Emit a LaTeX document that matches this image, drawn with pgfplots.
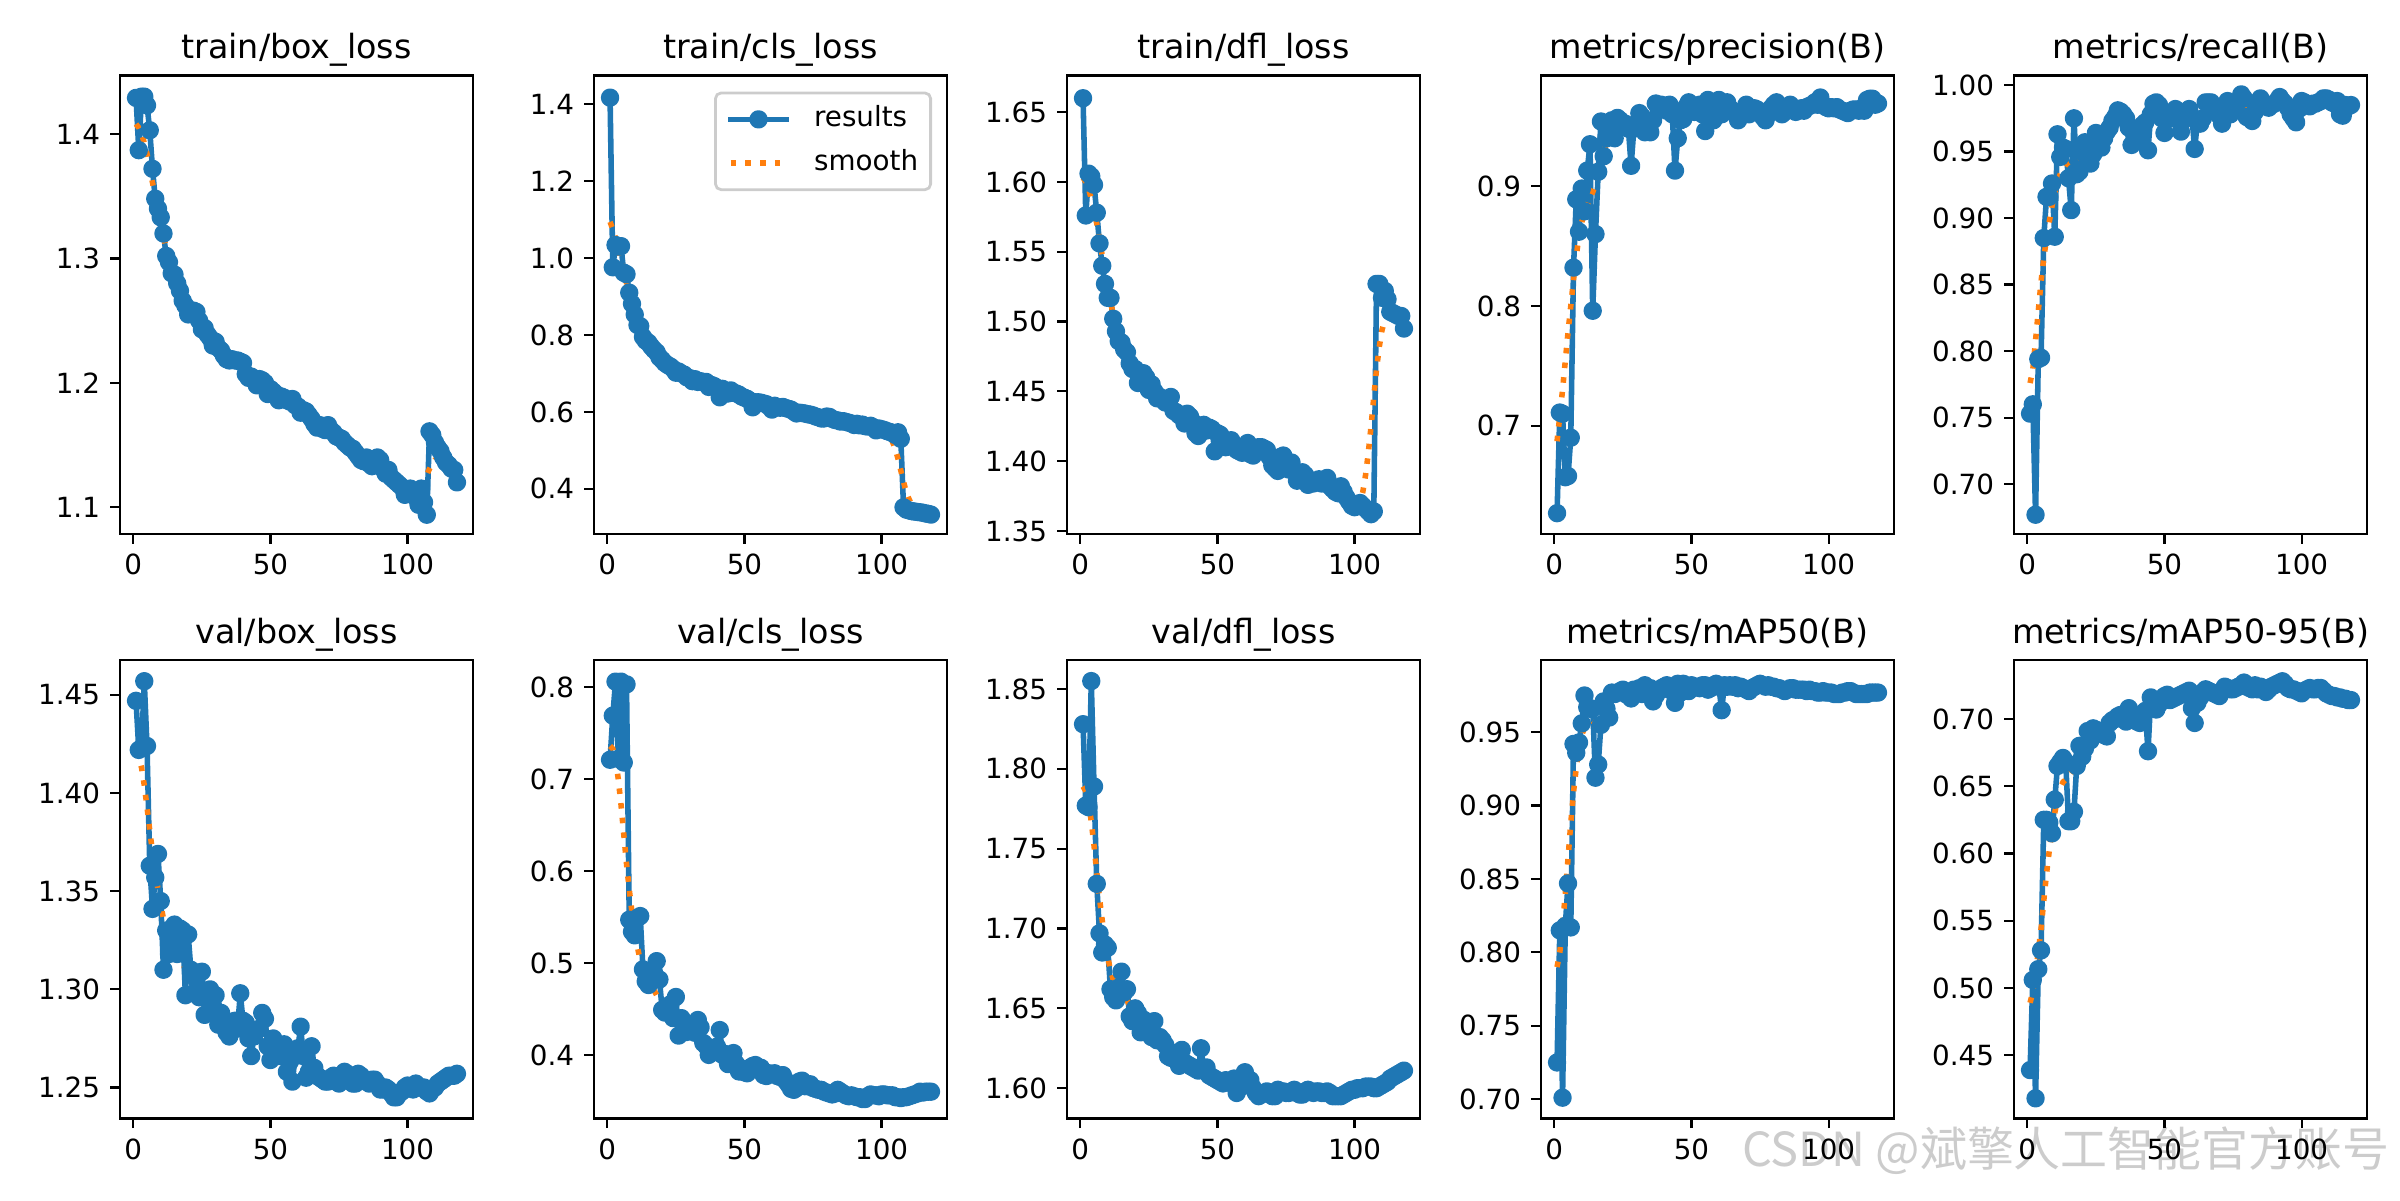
\documentclass[border=0pt]{standalone}
\usepackage{fontspec}
\setmainfont{DejaVu Sans}
\newfontfamily\cjkfont{Noto Sans CJK SC}
\usepackage{pgfplots}
\usepackage{pgfplotstable}
\pgfplotsset{compat=1.18}
\definecolor{c0}{HTML}{1F77B4}
\definecolor{c1}{HTML}{FF7F0E}
\definecolor{lgedge}{gray}{0.8}
\definecolor{wm}{gray}{0.8}

\pgfplotstableread{
e tb tc td pr re vb vc vd ma mb
1 1.429 1.417 1.660 0.627 0.753 1.447 0.721 1.828 0.725 0.439
2 1.387 0.976 1.576 0.711 0.760 1.422 0.769 1.777 0.815 0.506
3 1.430 1.034 1.606 0.710 0.677 1.423 0.806 1.776 0.701 0.418
4 1.430 1.030 1.604 0.657 0.794 1.457 0.722 1.855 0.818 0.514
5 1.423 1.031 1.598 0.658 0.795 1.424 0.806 1.789 0.847 0.528
6 1.403 0.962 1.578 0.690 0.885 1.363 0.718 1.728 0.817 0.625
7 1.372 0.958 1.556 0.832 0.916 1.341 0.803 1.697 0.942 0.625
8 1.348 0.910 1.540 0.889 0.916 1.357 0.547 1.685 0.936 0.623
9 1.340 0.881 1.527 0.862 0.926 1.369 0.534 1.690 0.943 0.615
10 1.333 0.853 1.517 0.898 0.886 1.345 0.530 1.688 0.956 0.640
11 1.320 0.826 1.517 0.879 0.963 1.310 0.549 1.662 0.975 0.665
12 1.302 0.823 1.502 0.913 0.946 1.330 0.551 1.657 0.967 0.668
13 1.297 0.795 1.493 0.935 0.953 1.318 0.493 1.655 0.966 0.671
14 1.288 0.785 1.486 0.796 0.952 1.325 0.480 1.663 0.966 0.668
15 1.287 0.780 1.485 0.860 0.930 1.333 0.476 1.673 0.919 0.624
16 1.280 0.770 1.480 0.912 0.906 1.318 0.485 1.660 0.928 0.624
17 1.274 0.762 1.478 0.954 0.975 1.331 0.490 1.662 0.955 0.631
18 1.266 0.755 1.470 0.925 0.933 1.330 0.502 1.645 0.971 0.665
19 1.262 0.742 1.466 0.940 0.935 1.297 0.482 1.642 0.966 0.680
20 1.255 0.735 1.466 0.945 0.950 1.328 0.449 1.650 0.960 0.672
21 1.256 0.727 1.456 0.955 0.957 1.310 0.446 1.647 0.977 0.678
22 1.258 0.722 1.460 0.940 0.955 1.298 0.452 1.635 0.976 0.691
23 1.257 0.718 1.463 0.957 0.941 1.305 0.455 1.643 0.977 0.684
24 1.250 0.712 1.460 0.955 0.948 1.296 0.440 1.636 0.978 0.693
25 1.243 0.702 1.451 0.950 0.964 1.309 0.463 1.635 0.979 0.692
26 1.244 0.705 1.455 0.952 0.957 1.287 0.421 1.632 0.976 0.690
27 1.239 0.700 1.450 0.948 0.953 1.295 0.440 1.642 0.975 0.689
28 1.236 0.697 1.445 0.917 0.960 1.300 0.436 1.630 0.973 0.688
29 1.230 0.690 1.446 0.948 0.965 1.292 0.425 1.632 0.979 0.687
30 1.233 0.688 1.444 0.950 0.968 1.297 0.430 1.630 0.978 0.697
31 1.228 0.680 1.442 0.961 0.973 1.282 0.432 1.627 0.980 0.699
32 1.226 0.685 1.442 0.958 0.976 1.288 0.424 1.620 0.976 0.700
33 1.222 0.678 1.446 0.945 0.981 1.283 0.438 1.619 0.982 0.702
34 1.219 0.680 1.436 0.948 0.980 1.278 0.430 1.622 0.978 0.703
35 1.218 0.677 1.435 0.945 0.978 1.276 0.413 1.618 0.980 0.700
36 1.219 0.678 1.433 0.955 0.975 1.282 0.410 1.614 0.971 0.698
37 1.218 0.665 1.432 0.969 0.968 1.284 0.400 1.624 0.975 0.708
38 1.218 0.670 1.427 0.965 0.955 1.280 0.403 1.616 0.978 0.704
39 1.217 0.667 1.434 0.968 0.962 1.298 0.405 1.615 0.980 0.699
40 1.216 0.662 1.432 0.966 0.966 1.284 0.409 1.614 0.981 0.698
41 1.207 0.638 1.428 0.963 0.960 1.283 0.427 1.613 0.982 0.697
42 1.204 0.660 1.420 0.968 0.970 1.275 0.400 1.612 0.979 0.703
43 1.205 0.655 1.418 0.960 0.972 1.266 0.401 1.611 0.978 0.706
44 1.202 0.648 1.422 0.913 0.951 1.276 0.390 1.625 0.970 0.676
45 1.198 0.656 1.426 0.940 0.978 1.279 0.392 1.612 0.983 0.716
46 1.203 0.650 1.422 0.955 0.986 1.280 0.402 1.613 0.977 0.713
47 1.202 0.648 1.424 0.956 0.987 1.288 0.390 1.608 0.983 0.707
48 1.200 0.645 1.423 0.966 0.985 1.285 0.382 1.607 0.980 0.711
49 1.191 0.640 1.407 0.970 0.975 1.271 0.385 1.606 0.978 0.713
50 1.195 0.637 1.420 0.965 0.964 1.264 0.381 1.605 0.982 0.717
51 1.193 0.634 1.419 0.962 0.976 1.275 0.380 1.604 0.981 0.718
52 1.191 0.629 1.412 0.965 0.977 1.272 0.386 1.603 0.981 0.714
53 1.186 0.612 1.410 0.968 0.975 1.266 0.388 1.605 0.980 0.715
54 1.189 0.625 1.413 0.960 0.982 1.268 0.389 1.604 0.982 0.716
55 1.188 0.625 1.415 0.946 0.975 1.272 0.384 1.603 0.982 0.717
56 1.186 0.624 1.411 0.972 0.965 1.258 0.386 1.606 0.979 0.718
57 1.185 0.622 1.408 0.970 0.974 1.263 0.378 1.597 0.980 0.719
58 1.187 0.620 1.407 0.955 0.980 1.253 0.377 1.600 0.982 0.720
59 1.182 0.614 1.406 0.965 0.982 1.266 0.380 1.604 0.983 0.721
60 1.181 0.606 1.410 0.972 0.976 1.270 0.379 1.610 0.981 0.708
61 1.176 0.616 1.413 0.960 0.952 1.281 0.380 1.606 0.965 0.697
62 1.178 0.612 1.405 0.968 0.972 1.266 0.377 1.605 0.982 0.712
63 1.177 0.611 1.404 0.970 0.971 1.255 0.376 1.600 0.981 0.716
64 1.174 0.613 1.409 0.965 0.975 1.258 0.378 1.597 0.982 0.720
65 1.171 0.610 1.410 0.963 0.987 1.271 0.372 1.595 0.981 0.722
66 1.167 0.608 1.410 0.961 0.987 1.260 0.368 1.596 0.982 0.721
67 1.164 0.606 1.409 0.955 0.987 1.256 0.363 1.597 0.980 0.720
68 1.166 0.601 1.408 0.960 0.983 1.255 0.362 1.598 0.981 0.719
69 1.163 0.596 1.403 0.963 0.980 1.254 0.364 1.597 0.980 0.718
70 1.162 0.598 1.397 0.968 0.977 1.253 0.371 1.595 0.979 0.717
71 1.166 0.597 1.395 0.960 0.971 1.253 0.372 1.595 0.978 0.721
72 1.162 0.596 1.393 0.962 0.978 1.255 0.366 1.599 0.980 0.724
73 1.160 0.594 1.403 0.965 0.988 1.256 0.366 1.598 0.981 0.723
74 1.157 0.593 1.404 0.964 0.978 1.253 0.368 1.598 0.982 0.722
75 1.156 0.591 1.397 0.962 0.982 1.252 0.364 1.597 0.983 0.722
76 1.155 0.588 1.394 0.958 0.985 1.254 0.363 1.597 0.982 0.723
77 1.152 0.586 1.399 0.955 0.988 1.258 0.362 1.598 0.981 0.724
78 1.150 0.583 1.393 0.960 0.993 1.257 0.362 1.599 0.982 0.725
79 1.148 0.583 1.386 0.965 0.990 1.256 0.360 1.597 0.981 0.727
80 1.147 0.588 1.388 0.968 0.976 1.252 0.359 1.596 0.981 0.724
81 1.144 0.587 1.392 0.970 0.975 1.252 0.358 1.596 0.980 0.723
82 1.141 0.582 1.390 0.965 0.973 1.257 0.357 1.598 0.980 0.722
83 1.138 0.579 1.383 0.960 0.980 1.256 0.358 1.599 0.979 0.725
84 1.137 0.578 1.385 0.962 0.985 1.254 0.362 1.598 0.978 0.722
85 1.140 0.575 1.384 0.966 0.990 1.253 0.360 1.597 0.979 0.724
86 1.135 0.576 1.386 0.968 0.985 1.252 0.358 1.598 0.980 0.723
87 1.133 0.574 1.387 0.965 0.984 1.254 0.356 1.598 0.980 0.720
88 1.137 0.572 1.384 0.962 0.983 1.254 0.355 1.597 0.979 0.722
89 1.140 0.570 1.385 0.963 0.985 1.252 0.356 1.597 0.979 0.724
90 1.138 0.566 1.388 0.965 0.986 1.249 0.355 1.598 0.979 0.725
91 1.131 0.569 1.382 0.963 0.988 1.249 0.354 1.597 0.979 0.726
92 1.127 0.565 1.380 0.966 0.991 1.250 0.354 1.595 0.978 0.727
93 1.130 0.567 1.378 0.967 0.988 1.249 0.352 1.595 0.979 0.728
94 1.124 0.563 1.377 0.968 0.986 1.247 0.352 1.595 0.978 0.726
95 1.122 0.562 1.382 0.970 0.983 1.245 0.355 1.595 0.978 0.723
96 1.120 0.564 1.378 0.968 0.978 1.245 0.357 1.596 0.977 0.722
97 1.118 0.560 1.374 0.974 0.975 1.247 0.356 1.597 0.977 0.722
98 1.116 0.552 1.371 0.968 0.972 1.248 0.356 1.598 0.978 0.721
99 1.110 0.557 1.368 0.966 0.982 1.250 0.355 1.599 0.977 0.720
100 1.111 0.555 1.367 0.965 0.988 1.251 0.357 1.599 0.977 0.719
101 1.115 0.553 1.369 0.966 0.987 1.250 0.357 1.600 0.977 0.721
102 1.113 0.550 1.370 0.965 0.985 1.249 0.356 1.600 0.976 0.722
103 1.108 0.548 1.368 0.966 0.984 1.252 0.356 1.600 0.976 0.723
104 1.102 0.545 1.366 0.964 0.986 1.250 0.356 1.601 0.976 0.722
105 1.115 0.540 1.364 0.963 0.986 1.250 0.354 1.601 0.977 0.722
106 1.104 0.547 1.362 0.962 0.987 1.250 0.354 1.601 0.977 0.723
107 1.094 0.530 1.364 0.961 0.988 1.248 0.353 1.600 0.978 0.723
108 1.161 0.352 1.527 0.963 0.990 1.247 0.354 1.600 0.978 0.721
109 1.158 0.346 1.527 0.964 0.990 1.249 0.354 1.601 0.977 0.719
110 1.152 0.344 1.517 0.964 0.989 1.250 0.355 1.602 0.976 0.718
111 1.148 0.342 1.522 0.963 0.987 1.252 0.356 1.603 0.976 0.717
112 1.145 0.341 1.516 0.965 0.986 1.253 0.357 1.604 0.976 0.717
113 1.140 0.340 1.507 0.963 0.988 1.254 0.358 1.606 0.976 0.716
114 1.136 0.339 1.506 0.972 0.978 1.255 0.360 1.607 0.976 0.716
115 1.134 0.338 1.505 0.973 0.977 1.256 0.359 1.608 0.977 0.715
116 1.131 0.336 1.504 0.973 0.985 1.256 0.360 1.609 0.977 0.715
117 1.130 0.335 1.504 0.968 0.984 1.256 0.360 1.610 0.977 0.714
118 1.120 0.333 1.495 0.969 0.985 1.257 0.360 1.611 0.977 0.714
}\results

\pgfplotsset{
  panel/.style={
    scale only axis, width=127.08pt, height=165.06pt, anchor=south west,
    xmin=-4.85, xmax=123.85, xtick={0,50,100},
    scaled ticks=false, tick pos=left, tick align=outside,
    major tick length=3.5pt,
    every tick/.style={black, line width=0.8pt},
    axis line style={black, line width=0.8pt},
    tick label style={font=\fontsize{10}{12}\selectfont},
    /pgf/number format/assume math mode=true,
    xticklabel style={inner sep=0pt, yshift=-3.5pt},
    yticklabel style={inner sep=0pt, xshift=-3.5pt},
    title style={font=\fontsize{12}{14}\selectfont, at={(0.5,1)}, anchor=base, yshift=0pt, inner sep=0pt},
  },
  res/.style={c0, line width=2pt, line join=round, line cap=rect, mark=*, mark size=2.3pt, mark options={solid, draw=none, fill=c0}},
  smo/.style={c1, line width=2pt, dash pattern=on 2pt off 3.3pt, no marks},
  fmtone/.style={yticklabel style={/pgf/number format/fixed, /pgf/number format/fixed zerofill, /pgf/number format/precision=1}},
  fmttwo/.style={yticklabel style={/pgf/number format/fixed, /pgf/number format/fixed zerofill, /pgf/number format/precision=2}},
}

\begin{document}
\begin{tikzpicture}
\useasboundingbox (0,0) rectangle (864pt,432pt);

\node[anchor=base west, inner sep=0pt, text=wm, font=\cjkfont\fontsize{16.9}{19}\selectfont] at (627pt,12.2pt) {CSDN @斌擎人工智能官方账号};

% ---------- top row ----------
\begin{axis}[panel, fmtone, at={(43.2pt,239.76pt)}, title={train/box\_loss},
  ymin=1.0785, ymax=1.447, ytick={1.1,1.2,1.3,1.4}]
\addplot[res] table[x=e, y=tb] {\results};
\addplot[smo] coordinates {(1,1.408)(2,1.405)(3,1.400)(4,1.393)(5,1.384)(6,1.373)(7,1.361)(8,1.349)(10,1.328)(12,1.308)(14,1.292)(16,1.279)(18,1.268)(20,1.260)(22,1.254)(24,1.248)(26,1.242)(28,1.236)(30,1.231)(32,1.226)(34,1.222)(36,1.219)(38,1.216)(40,1.212)(42,1.207)(44,1.203)(46,1.200)(48,1.197)(50,1.194)(52,1.191)(54,1.189)(56,1.187)(58,1.185)(60,1.181)(62,1.177)(64,1.173)(66,1.168)(68,1.165)(70,1.163)(72,1.162)(74,1.158)(76,1.155)(78,1.151)(80,1.147)(82,1.142)(84,1.139)(86,1.137)(88,1.136)(90,1.135)(92,1.130)(94,1.125)(96,1.120)(98,1.116)(100,1.113)(102,1.111)(103,1.112)(104,1.114)(105,1.117)(106,1.121)(107,1.126)(108,1.131)(109,1.135)(110,1.138)(111,1.139)(112,1.139)(114,1.137)(116,1.134)(118,1.131)};
\end{axis}

\begin{axis}[panel, fmtone, at={(213.84pt,239.76pt)}, title={train/cls\_loss},
  ymin=0.2826, ymax=1.4746, ytick={0.4,0.6,0.8,1.0,1.2,1.4},
  legend style={at={(1,1)}, anchor=north east, xshift=-5.4pt, yshift=-5.8pt,
    draw=lgedge, line width=1pt, rounded corners=2pt, fill=white,
    font=\fontsize{10}{12}\selectfont, inner xsep=4.5pt, inner ysep=4.5pt,
    row sep=5.8pt, column sep=9pt,
    nodes={inner sep=0pt, text height=7.6pt, text depth=2.4pt}},
  legend cell align=left,
  legend image code/.code={\draw[mark repeat=2,mark phase=2,#1] plot coordinates {(0pt,0pt) (10pt,0pt) (20pt,0pt)};}]
\addplot[res] table[x=e, y=tc] {\results};
\addlegendentry{results}
\addplot[smo] coordinates {(1,1.094)(2,1.075)(3,1.052)(4,1.025)(5,0.996)(6,0.965)(7,0.935)(8,0.905)(9,0.880)(10,0.856)(12,0.818)(14,0.790)(16,0.768)(18,0.751)(20,0.736)(22,0.722)(24,0.711)(26,0.703)(28,0.696)(30,0.689)(32,0.683)(34,0.679)(36,0.675)(38,0.670)(40,0.665)(42,0.659)(44,0.653)(46,0.649)(48,0.645)(50,0.638)(52,0.632)(54,0.626)(56,0.622)(58,0.618)(60,0.614)(62,0.612)(64,0.611)(66,0.607)(68,0.602)(70,0.598)(72,0.596)(74,0.593)(76,0.589)(78,0.586)(80,0.585)(82,0.583)(84,0.579)(86,0.576)(88,0.572)(90,0.569)(92,0.566)(94,0.564)(96,0.561)(98,0.558)(100,0.554)(102,0.547)(103,0.537)(104,0.522)(105,0.503)(106,0.478)(107,0.448)(108,0.418)(109,0.392)(110,0.373)(111,0.360)(112,0.352)(114,0.344)(116,0.340)(118,0.337)};
\addlegendentry{smooth}
\end{axis}

\begin{axis}[panel, fmttwo, at={(384.12pt,239.76pt)}, title={train/dfl\_loss},
  ymin=1.3478, ymax=1.6763, ytick={1.35,1.40,1.45,1.50,1.55,1.60,1.65}]
\addplot[res] table[x=e, y=td] {\results};
\addplot[smo] coordinates {(1,1.603)(2,1.600)(3,1.595)(4,1.588)(5,1.580)(6,1.570)(7,1.559)(8,1.547)(9,1.535)(10,1.524)(12,1.505)(14,1.490)(16,1.480)(18,1.471)(20,1.464)(22,1.460)(24,1.456)(26,1.451)(28,1.447)(30,1.444)(32,1.441)(34,1.437)(36,1.433)(38,1.431)(40,1.429)(42,1.425)(44,1.422)(46,1.421)(48,1.418)(50,1.416)(52,1.413)(54,1.412)(56,1.410)(58,1.408)(60,1.408)(62,1.407)(64,1.408)(66,1.408)(68,1.405)(70,1.400)(72,1.398)(74,1.399)(76,1.397)(78,1.393)(80,1.390)(82,1.388)(84,1.386)(86,1.385)(88,1.385)(90,1.385)(92,1.381)(94,1.379)(96,1.377)(98,1.372)(100,1.369)(101,1.369)(102,1.371)(103,1.378)(104,1.390)(105,1.406)(106,1.425)(107,1.446)(108,1.466)(109,1.482)(110,1.494)(111,1.501)(112,1.505)(113,1.507)(114,1.507)(116,1.506)(118,1.504)};
\end{axis}

\begin{axis}[panel, fmtone, at={(554.76pt,239.76pt)}, title={metrics/precision(B)},
  ymin=0.6096, ymax=0.9924, ytick={0.7,0.8,0.9}]
\addplot[res] table[x=e, y=pr] {\results};
\addplot[smo] coordinates {(1,0.687)(2,0.708)(3,0.730)(4,0.754)(5,0.778)(6,0.800)(7,0.822)(8,0.842)(9,0.858)(10,0.870)(11,0.877)(12,0.884)(13,0.890)(14,0.895)(15,0.901)(16,0.910)(17,0.918)(18,0.928)(19,0.935)(20,0.940)(22,0.945)(24,0.947)(26,0.948)(28,0.949)(30,0.951)(32,0.953)(34,0.955)(36,0.959)(38,0.963)(40,0.964)(42,0.961)(44,0.956)(46,0.955)(48,0.958)(50,0.962)(52,0.963)(54,0.963)(56,0.964)(58,0.964)(60,0.965)(62,0.965)(64,0.965)(66,0.963)(68,0.962)(70,0.963)(72,0.963)(74,0.963)(76,0.961)(78,0.961)(80,0.964)(82,0.965)(84,0.964)(86,0.965)(88,0.965)(90,0.965)(92,0.966)(94,0.968)(96,0.969)(98,0.969)(100,0.967)(102,0.966)(104,0.964)(106,0.963)(108,0.963)(110,0.964)(112,0.965)(114,0.967)(116,0.969)(118,0.969)};
\end{axis}

\begin{axis}[panel, fmttwo, at={(725.04pt,239.76pt)}, title={metrics/recall(B)},
  ymin=0.6625, ymax=1.0072, ytick={0.70,0.75,0.80,0.85,0.90,0.95,1.00}]
\addplot[res] table[x=e, y=re] {\results};
\addplot[smo] coordinates {(1,0.776)(2,0.786)(3,0.808)(4,0.830)(5,0.852)(6,0.870)(7,0.885)(8,0.897)(9,0.909)(10,0.919)(11,0.927)(12,0.933)(13,0.937)(14,0.940)(15,0.942)(16,0.943)(18,0.945)(20,0.948)(22,0.952)(24,0.956)(26,0.960)(28,0.965)(30,0.969)(32,0.972)(34,0.973)(36,0.971)(38,0.968)(40,0.966)(42,0.966)(44,0.969)(46,0.973)(48,0.976)(50,0.976)(52,0.975)(54,0.975)(56,0.974)(58,0.974)(60,0.973)(62,0.974)(64,0.977)(66,0.980)(68,0.981)(70,0.981)(72,0.981)(74,0.982)(76,0.984)(78,0.985)(80,0.983)(82,0.981)(84,0.982)(86,0.984)(88,0.985)(90,0.986)(92,0.987)(94,0.986)(96,0.982)(98,0.980)(100,0.982)(102,0.985)(104,0.986)(106,0.987)(108,0.988)(110,0.988)(112,0.986)(114,0.984)(116,0.983)(118,0.983)};
\end{axis}

% ---------- bottom row ----------
\begin{axis}[panel, fmttwo, at={(43.2pt,29.34pt)}, title={val/box\_loss},
  ymin=1.2342, ymax=1.4678, ytick={1.25,1.30,1.35,1.40,1.45}]
\addplot[res] table[x=e, y=vb] {\results};
\addplot[smo] coordinates {(1,1.421)(2,1.418)(3,1.413)(4,1.404)(5,1.393)(6,1.381)(7,1.370)(8,1.360)(9,1.351)(10,1.343)(11,1.336)(12,1.330)(14,1.323)(16,1.318)(18,1.313)(20,1.308)(22,1.303)(24,1.298)(26,1.294)(28,1.290)(30,1.287)(32,1.285)(34,1.283)(36,1.282)(38,1.282)(40,1.281)(42,1.279)(44,1.278)(46,1.277)(48,1.274)(50,1.271)(52,1.269)(54,1.267)(56,1.264)(58,1.264)(60,1.265)(62,1.264)(64,1.261)(66,1.258)(68,1.256)(70,1.254)(72,1.254)(74,1.254)(76,1.255)(78,1.255)(80,1.255)(82,1.255)(84,1.254)(86,1.253)(88,1.252)(90,1.250)(92,1.248)(94,1.247)(96,1.247)(98,1.248)(100,1.250)(102,1.250)(104,1.250)(106,1.249)(108,1.249)(110,1.250)(112,1.252)(114,1.254)(116,1.256)(118,1.256)};
\end{axis}

\begin{axis}[panel, fmtone, at={(213.84pt,29.34pt)}, title={val/cls\_loss},
  ymin=0.3308, ymax=0.8295, ytick={0.4,0.5,0.6,0.7,0.8}]
\addplot[res] table[x=e, y=vc] {\results};
\addplot[smo] coordinates {(1,0.736)(2,0.733)(3,0.722)(4,0.700)(5,0.672)(6,0.640)(7,0.608)(8,0.580)(9,0.555)(10,0.534)(11,0.517)(12,0.503)(13,0.493)(14,0.486)(16,0.476)(18,0.465)(20,0.456)(22,0.448)(24,0.441)(26,0.435)(28,0.430)(30,0.427)(32,0.423)(34,0.417)(36,0.411)(38,0.407)(40,0.406)(42,0.404)(44,0.399)(46,0.393)(48,0.388)(50,0.385)(52,0.385)(54,0.385)(56,0.383)(58,0.380)(60,0.379)(62,0.378)(64,0.375)(66,0.370)(68,0.366)(70,0.366)(72,0.366)(74,0.365)(76,0.363)(78,0.362)(80,0.360)(82,0.359)(84,0.359)(86,0.358)(88,0.356)(90,0.355)(92,0.354)(94,0.354)(96,0.355)(98,0.356)(100,0.356)(102,0.356)(104,0.355)(106,0.354)(108,0.354)(110,0.355)(112,0.357)(114,0.358)(116,0.359)(118,0.360)};
\end{axis}

\begin{axis}[panel, fmttwo, at={(384.12pt,29.34pt)}, title={val/dfl\_loss},
  ymin=1.581, ymax=1.8682, ytick={1.60,1.65,1.70,1.75,1.80,1.85}]
\addplot[res] table[x=e, y=vd] {\results};
\addplot[smo] coordinates {(1,1.789)(2,1.786)(3,1.779)(4,1.767)(5,1.752)(6,1.735)(7,1.719)(8,1.705)(9,1.692)(10,1.682)(11,1.674)(12,1.668)(14,1.662)(16,1.658)(18,1.652)(20,1.646)(22,1.641)(24,1.638)(26,1.636)(28,1.633)(30,1.629)(32,1.625)(34,1.621)(36,1.619)(38,1.617)(40,1.615)(42,1.614)(44,1.613)(46,1.611)(48,1.608)(50,1.606)(52,1.605)(54,1.604)(56,1.603)(58,1.603)(60,1.603)(62,1.602)(64,1.599)(66,1.598)(68,1.597)(70,1.597)(72,1.597)(76,1.597)(80,1.597)(84,1.597)(88,1.597)(92,1.596)(96,1.597)(100,1.599)(104,1.600)(108,1.601)(112,1.604)(116,1.608)(118,1.609)};
\end{axis}

\begin{axis}[panel, fmttwo, at={(554.76pt,29.34pt)}, title={metrics/mAP50(B)},
  ymin=0.6868, ymax=0.9992, ytick={0.70,0.75,0.80,0.85,0.90,0.95}]
\addplot[res] table[x=e, y=ma] {\results};
\addplot[smo] coordinates {(1,0.790)(2,0.800)(3,0.818)(4,0.840)(5,0.864)(6,0.888)(7,0.909)(8,0.926)(9,0.939)(10,0.948)(11,0.953)(12,0.955)(13,0.955)(14,0.955)(15,0.957)(16,0.960)(17,0.964)(18,0.968)(19,0.971)(20,0.973)(22,0.976)(24,0.977)(26,0.977)(28,0.977)(30,0.978)(32,0.979)(34,0.978)(36,0.977)(38,0.978)(40,0.980)(42,0.979)(44,0.978)(46,0.979)(48,0.980)(50,0.981)(54,0.981)(58,0.981)(60,0.978)(62,0.978)(64,0.980)(68,0.981)(72,0.980)(76,0.982)(80,0.981)(84,0.979)(88,0.979)(92,0.979)(96,0.978)(100,0.977)(104,0.976)(108,0.977)(112,0.976)(116,0.977)(118,0.977)};
\end{axis}

\begin{axis}[panel, fmttwo, at={(725.04pt,29.34pt)}, title={metrics/mAP50-95(B)},
  ymin=0.403, ymax=0.7438, ytick={0.45,0.50,0.55,0.60,0.65,0.70}]
\addplot[res] table[x=e, y=mb] {\results};
\addplot[smo] coordinates {(1,0.489)(2,0.497)(3,0.511)(4,0.527)(5,0.544)(6,0.565)(7,0.585)(8,0.602)(9,0.617)(10,0.630)(11,0.641)(12,0.649)(13,0.653)(14,0.655)(15,0.657)(16,0.660)(17,0.665)(18,0.670)(20,0.678)(22,0.684)(24,0.688)(26,0.690)(28,0.693)(30,0.696)(32,0.699)(34,0.701)(36,0.702)(38,0.702)(40,0.702)(42,0.701)(44,0.703)(46,0.707)(48,0.710)(50,0.713)(52,0.715)(54,0.716)(56,0.717)(58,0.716)(60,0.714)(62,0.714)(64,0.717)(66,0.719)(68,0.720)(70,0.721)(72,0.722)(74,0.723)(76,0.723)(78,0.724)(80,0.724)(82,0.724)(84,0.724)(86,0.723)(88,0.723)(90,0.725)(92,0.726)(94,0.725)(96,0.723)(98,0.721)(100,0.720)(102,0.721)(104,0.722)(106,0.722)(108,0.721)(110,0.719)(112,0.717)(114,0.716)(116,0.715)(118,0.714)};
\end{axis}
\end{tikzpicture}
\end{document}
